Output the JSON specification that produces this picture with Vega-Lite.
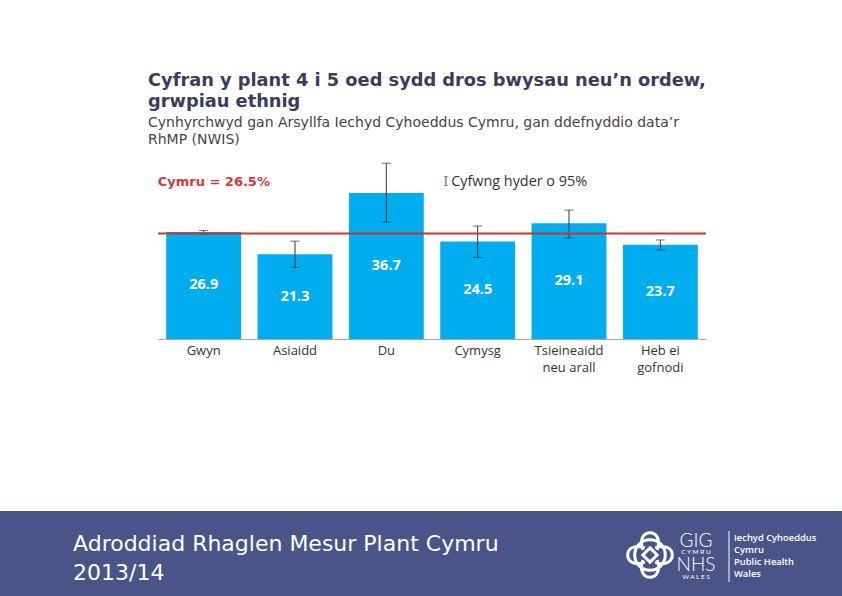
{
  "$schema": "https://vega.github.io/schema/vega-lite/v6.json",
  "width": 548,
  "height": 179,
  "autosize": {"type": "none"},
  "padding": {"left": 158, "top": 160, "right": 136, "bottom": 257},
  "background": "white",
  "config": {"view": {"stroke": null}},
  "title": {
    "text": ["Cyfran y plant 4 i 5 oed sydd dros bwysau neu’n ordew,", "grwpiau ethnig"],
    "subtitle": ["Cynhyrchwyd gan Arsyllfa Iechyd Cyhoeddus Cymru, gan ddefnyddio data’r", "RhMP (NWIS)"],
    "anchor": "start",
    "frame": "group",
    "dx": -10,
    "font": "DejaVu Sans",
    "fontSize": 17.8,
    "fontWeight": "bold",
    "color": "#3b3b5e",
    "lineHeight": 21,
    "subtitleFont": "DejaVu Sans",
    "subtitleFontSize": 14,
    "subtitleColor": "#444444",
    "subtitleLineHeight": 17.5,
    "subtitlePadding": 5,
    "offset": 13
  },
  "datasets": {
    "groups": [
      {"group": "Gwyn", "value": 26.9, "lo": 26.4, "hi": 27.3},
      {"group": "Asiaidd", "value": 21.3, "lo": 18.0, "hi": 24.6},
      {"group": "Du", "value": 36.7, "lo": 29.4, "hi": 44.2},
      {"group": "Cymysg", "value": 24.5, "lo": 20.5, "hi": 28.4},
      {"group": "Tsieineaidd neu arall", "value": 29.1, "lo": 25.4, "hi": 32.4},
      {"group": "Heb ei gofnodi", "value": 23.7, "lo": 22.4, "hi": 24.9}
    ],
    "wales": [{"area": "Cymru", "value": 26.5}],
    "page": [{"part": "footer"}]
  },
  "layer": [
    {
      "data": {"name": "groups"},
      "mark": {"type": "bar", "color": "#00aeef"},
      "encoding": {
        "x": {
          "field": "group", "type": "nominal", "sort": null, "title": null,
          "scale": {"type": "band", "domain": ["Gwyn", "Asiaidd", "Du", "Cymysg", "Tsieineaidd neu arall", "Heb ei gofnodi"], "paddingInner": 0.18, "paddingOuter": 0.09},
          "axis": {
            "orient": "bottom",
            "labelAngle": 0, "ticks": false, "domainColor": "#a8a8a8", "domainWidth": 1,
            "labelFont": "Open Sans", "labelFontSize": 13, "labelColor": "#333333",
            "labelPadding": 5, "labelLineHeight": 17, "labelBaseline": "top",
            "labelExpr": "datum.label == 'Tsieineaidd neu arall' ? ['Tsieineaidd', 'neu arall'] : datum.label == 'Heb ei gofnodi' ? ['Heb ei', 'gofnodi'] : datum.label"
          }
        },
        "y": {
          "field": "value", "type": "quantitative", "title": null,
          "scale": {"domain": [0, 45], "nice": false, "zero": true},
          "axis": null
        }
      }
    },
    {
      "data": {"name": "groups"},
      "transform": [{"calculate": "datum.value / 2", "as": "mid"}],
      "mark": {"type": "text", "color": "white", "font": "Open Sans", "fontWeight": "bold", "fontSize": 14.5, "baseline": "middle"},
      "encoding": {
        "x": {"field": "group", "type": "nominal", "sort": null, "title": null, "axis": null,
          "scale": {"type": "band", "domain": ["Gwyn", "Asiaidd", "Du", "Cymysg", "Tsieineaidd neu arall", "Heb ei gofnodi"], "paddingInner": 0.18, "paddingOuter": 0.09}},
        "y": {"field": "mid", "type": "quantitative", "title": null, "axis": null, "scale": {"domain": [0, 45], "nice": false, "zero": true}},
        "text": {"field": "value", "type": "quantitative", "format": ".1f"}
      }
    },
    {
      "data": {"name": "groups"},
      "mark": {"type": "errorbar", "color": "#333333", "thickness": 1, "ticks": {"size": 9}},
      "encoding": {
        "x": {"field": "group", "type": "nominal", "sort": null, "title": null, "axis": null,
          "scale": {"type": "band", "domain": ["Gwyn", "Asiaidd", "Du", "Cymysg", "Tsieineaidd neu arall", "Heb ei gofnodi"], "paddingInner": 0.18, "paddingOuter": 0.09}},
        "y": {"field": "lo", "type": "quantitative", "title": null, "axis": null, "scale": {"domain": [0, 45], "nice": false, "zero": true}},
        "y2": {"field": "hi"}
      }
    },
    {
      "data": {"name": "wales"},
      "mark": {"type": "rule", "color": "#c8372d", "strokeWidth": 2},
      "encoding": {
        "y": {"field": "value", "type": "quantitative", "title": null, "axis": null, "scale": {"domain": [0, 45], "nice": false, "zero": true}}
      }
    },
    {
      "data": {"name": "wales"},
      "mark": {"type": "text", "color": "#d7373a", "font": "DejaVu Sans", "fontWeight": "bold", "fontSize": 13, "align": "left", "baseline": "middle", "dx": -46},
      "encoding": {
        "x": {"datum": "Gwyn", "type": "nominal", "axis": null,
          "scale": {"type": "band", "domain": ["Gwyn", "Asiaidd", "Du", "Cymysg", "Tsieineaidd neu arall", "Heb ei gofnodi"], "paddingInner": 0.18, "paddingOuter": 0.09}},
        "y": {"datum": 39.5, "type": "quantitative", "axis": null, "scale": {"domain": [0, 45], "nice": false, "zero": true}},
        "text": {"value": "Cymru = 26.5%"}
      }
    },
    {
      "data": {"name": "wales"},
      "mark": {"type": "text", "color": "#777777", "font": "DejaVu Serif", "fontSize": 13, "align": "left", "baseline": "middle", "dx": -34.5},
      "encoding": {
        "x": {"datum": "Cymysg", "type": "nominal", "axis": null,
          "scale": {"type": "band", "domain": ["Gwyn", "Asiaidd", "Du", "Cymysg", "Tsieineaidd neu arall", "Heb ei gofnodi"], "paddingInner": 0.18, "paddingOuter": 0.09}},
        "y": {"datum": 39.5, "type": "quantitative", "axis": null, "scale": {"domain": [0, 45], "nice": false, "zero": true}},
        "text": {"value": "I"}
      }
    },
    {
      "data": {"name": "wales"},
      "mark": {"type": "text", "color": "#333333", "font": "Open Sans", "fontSize": 14.4, "align": "left", "baseline": "middle", "dx": -26.5},
      "encoding": {
        "x": {"datum": "Cymysg", "type": "nominal", "axis": null,
          "scale": {"type": "band", "domain": ["Gwyn", "Asiaidd", "Du", "Cymysg", "Tsieineaidd neu arall", "Heb ei gofnodi"], "paddingInner": 0.18, "paddingOuter": 0.09}},
        "y": {"datum": 39.5, "type": "quantitative", "axis": null, "scale": {"domain": [0, 45], "nice": false, "zero": true}},
        "text": {"value": "Cyfwng hyder o 95%"}
      }
    },
    {
      "data": {"name": "page"},
      "mark": {"type": "rect", "color": "#4a5488"},
      "encoding": {
        "x": {"datum": 0, "type": "quantitative", "axis": null, "scale": {"domain": [0, 842], "range": [-158, 684], "nice": false, "zero": false}},
        "x2": {"datum": 842},
        "y": {"datum": 511, "type": "quantitative", "axis": null, "scale": {"domain": [0, 596], "range": [-160, 436], "nice": false, "zero": false}},
        "y2": {"datum": 596}
      }
    },
    {
      "data": {"name": "page"},
      "mark": {"type": "text", "text": ["Adroddiad Rhaglen Mesur Plant Cymru", "2013/14"], "font": "DejaVu Sans", "fontSize": 22, "color": "white", "align": "left", "baseline": "alphabetic", "lineHeight": 29},
      "encoding": {
        "x": {"datum": 73, "type": "quantitative", "axis": null, "scale": {"domain": [0, 842], "range": [-158, 684], "nice": false, "zero": false}},
        "y": {"datum": 551, "type": "quantitative", "axis": null, "scale": {"domain": [0, 596], "range": [-160, 436], "nice": false, "zero": false}}
      }
    },
    {
      "data": {"name": "page"},
      "mark": {"type": "point", "shape": "M -0.6 0 A 0.6 0.6 0 1 0 0.6 0 A 0.6 0.6 0 1 0 -0.6 0 M -0.28 -0.2 C -0.6 -1.1 0.6 -1.1 0.28 -0.2 M -0.28 0.2 C -0.6 1.1 0.6 1.1 0.28 0.2 M -0.2 -0.28 C -1.1 -0.6 -1.1 0.6 -0.2 0.28 M 0.2 -0.28 C 1.1 -0.6 1.1 0.6 0.2 0.28 M 0 -0.28 L 0.28 0 L 0 0.28 L -0.28 0 Z", "size": 2600, "filled": false, "stroke": "white", "strokeWidth": 3, "opacity": 1},
      "encoding": {
        "x": {"datum": 650, "type": "quantitative", "axis": null, "scale": {"domain": [0, 842], "range": [-158, 684], "nice": false, "zero": false}},
        "y": {"datum": 555, "type": "quantitative", "axis": null, "scale": {"domain": [0, 596], "range": [-160, 436], "nice": false, "zero": false}}
      }
    },
    {
      "data": {"name": "page"},
      "mark": {"type": "text", "text": "GIG", "font": "Lato", "fontWeight": 300, "fontSize": 19, "color": "white", "align": "center", "baseline": "alphabetic"},
      "encoding": {
        "x": {"datum": 696, "type": "quantitative", "axis": null, "scale": {"domain": [0, 842], "range": [-158, 684], "nice": false, "zero": false}},
        "y": {"datum": 547, "type": "quantitative", "axis": null, "scale": {"domain": [0, 596], "range": [-160, 436], "nice": false, "zero": false}}
      }
    },
    {
      "data": {"name": "page"},
      "mark": {"type": "text", "text": "C Y M R U", "font": "Lato", "fontSize": 6.5, "color": "white", "align": "center", "baseline": "alphabetic"},
      "encoding": {
        "x": {"datum": 696, "type": "quantitative", "axis": null, "scale": {"domain": [0, 842], "range": [-158, 684], "nice": false, "zero": false}},
        "y": {"datum": 554, "type": "quantitative", "axis": null, "scale": {"domain": [0, 596], "range": [-160, 436], "nice": false, "zero": false}}
      }
    },
    {
      "data": {"name": "page"},
      "mark": {"type": "text", "text": "NHS", "font": "Lato", "fontWeight": 300, "fontSize": 19, "color": "white", "align": "center", "baseline": "alphabetic"},
      "encoding": {
        "x": {"datum": 696, "type": "quantitative", "axis": null, "scale": {"domain": [0, 842], "range": [-158, 684], "nice": false, "zero": false}},
        "y": {"datum": 571, "type": "quantitative", "axis": null, "scale": {"domain": [0, 596], "range": [-160, 436], "nice": false, "zero": false}}
      }
    },
    {
      "data": {"name": "page"},
      "mark": {"type": "text", "text": "W A L E S", "font": "Lato", "fontSize": 6.5, "color": "white", "align": "center", "baseline": "alphabetic"},
      "encoding": {
        "x": {"datum": 696, "type": "quantitative", "axis": null, "scale": {"domain": [0, 842], "range": [-158, 684], "nice": false, "zero": false}},
        "y": {"datum": 579, "type": "quantitative", "axis": null, "scale": {"domain": [0, 596], "range": [-160, 436], "nice": false, "zero": false}}
      }
    },
    {
      "data": {"name": "page"},
      "mark": {"type": "rule", "color": "white", "strokeWidth": 1},
      "encoding": {
        "x": {"datum": 729, "type": "quantitative", "axis": null, "scale": {"domain": [0, 842], "range": [-158, 684], "nice": false, "zero": false}},
        "y": {"datum": 531, "type": "quantitative", "axis": null, "scale": {"domain": [0, 596], "range": [-160, 436], "nice": false, "zero": false}},
        "y2": {"datum": 582}
      }
    },
    {
      "data": {"name": "page"},
      "mark": {"type": "text", "text": ["Iechyd Cyhoeddus", "Cymru"], "font": "Open Sans", "fontWeight": 600, "fontSize": 9.4, "lineHeight": 11.5, "color": "white", "align": "left", "baseline": "alphabetic"},
      "encoding": {
        "x": {"datum": 734, "type": "quantitative", "axis": null, "scale": {"domain": [0, 842], "range": [-158, 684], "nice": false, "zero": false}},
        "y": {"datum": 541, "type": "quantitative", "axis": null, "scale": {"domain": [0, 596], "range": [-160, 436], "nice": false, "zero": false}}
      }
    },
    {
      "data": {"name": "page"},
      "mark": {"type": "text", "text": ["Public Health", "Wales"], "font": "Open Sans", "fontWeight": 600, "fontSize": 9.4, "lineHeight": 12, "color": "white", "align": "left", "baseline": "alphabetic"},
      "encoding": {
        "x": {"datum": 734, "type": "quantitative", "axis": null, "scale": {"domain": [0, 842], "range": [-158, 684], "nice": false, "zero": false}},
        "y": {"datum": 565, "type": "quantitative", "axis": null, "scale": {"domain": [0, 596], "range": [-160, 436], "nice": false, "zero": false}}
      }
    }
  ],
  "resolve": {"scale": {"x": "independent", "y": "independent"}}
}
